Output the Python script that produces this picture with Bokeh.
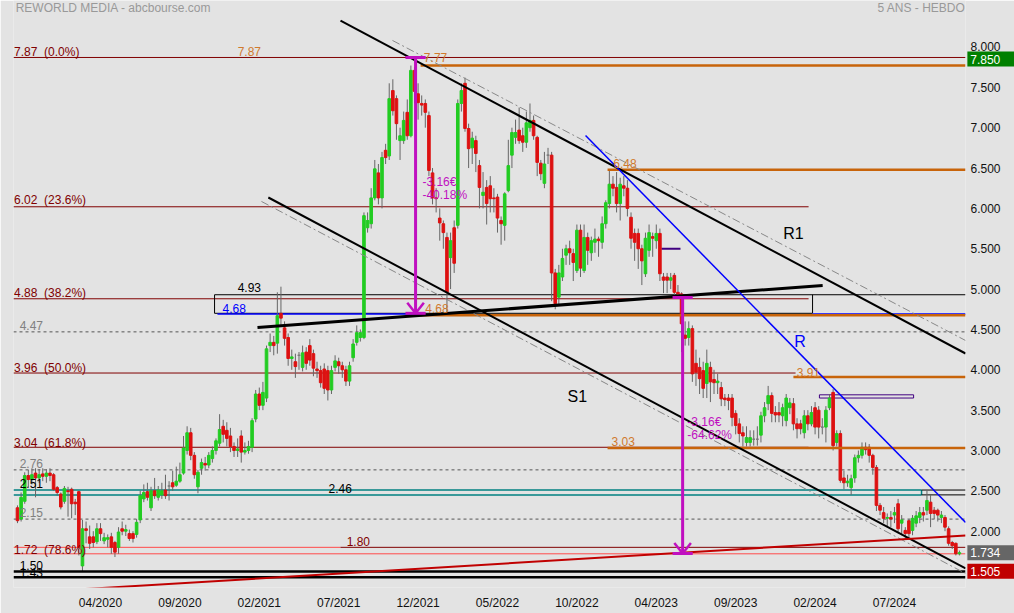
from bokeh.plotting import figure
from bokeh.models import Range1d, FixedTicker
from bokeh.core.properties import value
from bokeh.embed import file_html
from bokeh.resources import INLINE

FONT = "Liberation Sans"

# ---------------- weekly candles ----------------
open_ = [2.29, 2.15, 2.37, 2.69, 2.64, 2.72, 2.66, 2.71, 2.68, 2.72,
         2.70, 2.54, 2.46, 2.37, 2.50, 2.52, 2.36, 2.49, 1.57, 2.03,
         1.93, 1.93, 1.87, 2.03, 1.88, 1.90, 1.93, 1.86, 1.80, 2.03,
         2.00, 1.97, 1.97, 1.96, 2.14, 2.40, 2.49, 2.29, 2.50, 2.42,
         2.45, 2.51, 2.56, 2.60, 2.57, 2.62, 2.72, 3.00, 3.22, 2.94,
         2.55, 2.78, 2.84, 2.82, 2.90, 3.00, 3.09, 3.30, 3.25, 3.18,
         3.05, 3.00, 3.18, 2.98, 3.00, 3.04, 3.39, 3.70, 3.56, 3.65,
         4.30, 4.34, 4.33, 4.70, 4.52, 4.40, 4.14, 4.10, 4.18, 4.03,
         4.22, 4.30, 4.20, 4.01, 3.99, 4.01, 3.99, 3.75, 4.03, 4.10,
         4.05, 4.00, 3.86, 4.15, 4.34, 4.40, 4.40, 5.76, 5.81, 6.13,
         6.44, 6.13, 6.72, 6.65, 7.46, 7.36, 6.84, 6.84, 7.19, 6.90,
         7.71, 7.42, 7.30, 7.30, 7.15, 6.44, 6.13, 5.88, 5.81, 5.64,
         5.39, 5.76, 5.79, 7.30, 7.55, 6.99, 6.75, 6.84, 6.53, 6.16,
         6.26, 6.28, 6.13, 6.14, 5.85, 5.79, 6.22, 6.66, 6.88, 6.97,
         6.90, 6.82, 7.00, 7.09, 6.88, 6.56, 6.31, 6.66, 6.66, 5.20,
         4.90, 5.15, 5.42, 5.50, 5.44, 5.23, 5.73, 5.23, 5.64, 5.45,
         5.58, 5.62, 5.58, 5.81, 6.06, 6.30, 6.26, 6.06, 6.28, 6.25,
         5.89, 5.69, 5.69, 5.50, 5.19, 5.48, 5.65, 5.60, 5.69, 5.15,
         5.15, 5.11, 5.17, 4.96, 4.94, 4.43, 4.40, 4.51, 4.08, 4.03,
         3.99, 3.83, 4.03, 3.88, 3.84, 3.78, 3.65, 3.65, 3.65, 3.46,
         3.33, 3.22, 3.10, 3.10, 3.14, 3.14, 3.19, 3.43, 3.58, 3.68,
         3.47, 3.47, 3.43, 3.37, 3.53, 3.58, 3.33, 3.33, 3.22, 3.43,
         3.33, 3.53, 3.50, 3.29, 3.29, 3.53, 3.72, 3.10, 3.21, 2.66,
         2.60, 2.54, 2.66, 2.91, 2.94, 3.04, 3.04, 2.94, 2.79, 2.32,
         2.23, 2.16, 2.17, 2.20, 2.34, 2.10, 2.01, 2.13, 2.01, 2.10,
         2.17, 2.23, 2.26, 2.36, 2.26, 2.26, 2.17, 2.17, 2.03, 1.86,
         1.85, 1.72]
high = [2.32, 2.48, 2.73, 2.76, 2.78, 2.78, 2.77, 2.78, 2.77, 2.78,
        2.72, 2.56, 2.48, 2.56, 2.55, 2.54, 2.40, 2.50, 2.14, 2.12,
        2.07, 2.00, 2.10, 2.10, 1.98, 1.96, 1.98, 1.88, 2.05, 2.12,
        2.08, 2.02, 2.00, 2.15, 2.50, 2.58, 2.60, 2.55, 2.66, 2.56,
        2.60, 2.70, 2.62, 2.75, 2.80, 2.85, 3.18, 3.30, 3.28, 2.98,
        2.76, 2.90, 2.92, 2.98, 3.05, 3.15, 3.45, 3.38, 3.35, 3.28,
        3.10, 3.15, 3.25, 3.10, 3.12, 3.40, 3.75, 3.78, 3.85, 4.30,
        4.45, 4.42, 4.96, 5.03, 4.60, 4.45, 4.25, 4.20, 4.22, 4.30,
        4.28, 4.38, 4.25, 4.10, 4.05, 4.08, 4.05, 4.05, 4.18, 4.15,
        4.10, 4.05, 4.10, 4.38, 4.55, 4.50, 5.95, 5.95, 6.25, 6.60,
        6.55, 6.70, 6.80, 7.55, 7.60, 7.40, 7.00, 7.20, 7.35, 7.77,
        7.75, 7.55, 7.40, 7.35, 7.20, 6.50, 6.25, 6.00, 5.85, 5.70,
        5.70, 5.85, 7.35, 7.55, 7.62, 7.05, 6.95, 6.90, 6.60, 6.45,
        6.35, 6.40, 6.25, 6.18, 5.90, 6.20, 6.85, 7.00, 7.10, 7.25,
        7.00, 7.20, 7.30, 7.15, 6.90, 6.60, 6.70, 6.75, 6.70, 5.25,
        5.30, 5.50, 5.55, 5.60, 5.50, 5.80, 5.80, 5.80, 5.70, 5.65,
        5.75, 5.65, 5.90, 6.10, 6.48, 6.40, 6.45, 6.38, 6.40, 6.35,
        5.95, 5.75, 5.75, 5.55, 5.70, 5.80, 5.70, 5.80, 5.75, 5.20,
        5.20, 5.20, 5.20, 5.05, 4.96, 4.60, 4.60, 4.55, 4.25, 4.15,
        4.10, 4.25, 4.10, 4.00, 3.95, 3.85, 3.70, 3.70, 3.70, 3.50,
        3.40, 3.30, 3.30, 3.25, 3.25, 3.30, 3.48, 3.60, 3.80, 3.72,
        3.55, 3.60, 3.58, 3.70, 3.65, 3.65, 3.40, 3.38, 3.50, 3.50,
        3.55, 3.60, 3.55, 3.40, 3.55, 3.70, 3.76, 3.25, 3.25, 2.75,
        2.70, 2.70, 2.95, 3.00, 3.10, 3.10, 3.08, 2.96, 2.82, 2.35,
        2.30, 2.22, 2.25, 2.30, 2.40, 2.20, 2.05, 2.15, 2.20, 2.25,
        2.30, 2.30, 2.50, 2.45, 2.30, 2.28, 2.25, 2.20, 2.06, 1.88,
        1.86, 1.76]
low = [2.10, 2.12, 2.34, 2.55, 2.58, 2.42, 2.60, 2.62, 2.60, 2.62,
       2.50, 2.44, 2.27, 2.34, 2.18, 2.16, 2.20, 1.70, 1.50, 1.85,
       1.78, 1.80, 1.84, 1.88, 1.84, 1.80, 1.72, 1.68, 1.72, 1.95,
       1.94, 1.88, 1.86, 1.92, 2.10, 2.36, 2.38, 2.25, 2.40, 2.38,
       2.40, 2.40, 2.38, 2.50, 2.55, 2.60, 2.70, 2.95, 2.88, 2.65,
       2.47, 2.70, 2.75, 2.78, 2.85, 2.95, 3.05, 3.10, 3.05, 2.98,
       2.92, 2.92, 2.85, 2.95, 2.96, 2.98, 3.35, 3.50, 3.50, 3.60,
       4.22, 4.18, 4.20, 4.55, 4.30, 4.05, 4.00, 3.90, 4.00, 3.98,
       4.00, 4.05, 3.92, 3.90, 3.78, 3.70, 3.62, 3.70, 3.98, 3.95,
       3.90, 3.80, 3.80, 4.10, 4.30, 4.35, 4.38, 5.70, 5.75, 6.10,
       6.05, 6.00, 6.55, 6.60, 7.15, 6.85, 6.60, 6.80, 6.85, 6.88,
       7.30, 7.10, 7.15, 7.00, 6.40, 6.05, 5.95, 5.60, 5.50, 4.71,
       5.00, 5.20, 5.75, 7.20, 6.95, 6.50, 6.55, 6.45, 6.00, 6.00,
       5.80, 5.95, 5.95, 5.70, 5.55, 5.60, 6.20, 6.50, 6.80, 6.80,
       6.70, 6.75, 6.95, 6.85, 6.40, 6.35, 6.25, 6.55, 4.85, 4.75,
       4.80, 5.10, 5.30, 5.30, 5.10, 5.20, 5.15, 5.20, 5.30, 5.35,
       5.45, 5.40, 5.50, 5.75, 6.00, 6.15, 5.95, 5.85, 6.15, 5.90,
       5.50, 5.35, 5.25, 5.05, 5.15, 5.40, 5.40, 5.50, 5.10, 4.95,
       4.95, 5.00, 4.90, 4.88, 4.22, 4.30, 4.30, 3.85, 3.80, 3.70,
       3.65, 3.65, 3.60, 3.70, 3.70, 3.55, 3.55, 3.50, 3.30, 3.20,
       3.10, 3.05, 3.05, 3.05, 3.06, 3.06, 3.10, 3.35, 3.50, 3.35,
       3.35, 3.35, 3.30, 3.30, 3.45, 3.25, 3.15, 3.20, 3.15, 3.25,
       3.30, 3.20, 3.15, 3.20, 3.10, 3.50, 3.00, 3.05, 2.60, 2.52,
       2.55, 2.45, 2.60, 2.85, 2.90, 2.95, 2.85, 2.70, 2.25, 2.20,
       2.10, 2.05, 2.05, 2.10, 1.98, 1.95, 1.90, 1.92, 1.95, 2.05,
       2.10, 2.12, 2.20, 2.05, 2.15, 2.12, 2.10, 2.00, 1.82, 1.78,
       1.70, 1.70]
close = [2.13, 2.42, 2.69, 2.64, 2.70, 2.66, 2.70, 2.68, 2.72, 2.69,
         2.52, 2.48, 2.30, 2.53, 2.49, 2.34, 2.34, 1.80, 2.03, 2.01,
         1.85, 1.86, 2.03, 1.97, 1.92, 1.92, 1.80, 1.74, 1.99, 2.00,
         2.02, 1.91, 1.91, 2.11, 2.44, 2.48, 2.42, 2.50, 2.44, 2.51,
         2.50, 2.44, 2.56, 2.55, 2.62, 2.70, 3.03, 3.22, 2.94, 2.70,
         2.73, 2.85, 2.82, 2.94, 3.00, 3.12, 3.26, 3.20, 3.15, 3.05,
         3.00, 3.02, 2.98, 3.00, 3.05, 3.37, 3.70, 3.56, 3.72, 4.26,
         4.34, 4.30, 4.67, 4.64, 4.39, 4.14, 4.16, 4.04, 4.18, 4.21,
         4.08, 4.12, 4.02, 3.99, 3.84, 3.77, 3.75, 3.99, 4.11, 4.05,
         4.00, 3.86, 4.05, 4.32, 4.46, 4.46, 5.91, 5.85, 6.13, 6.49,
         6.13, 6.63, 6.63, 7.36, 7.21, 7.05, 6.90, 7.09, 6.90, 7.71,
         7.45, 7.31, 7.28, 7.19, 6.47, 6.13, 6.12, 5.82, 5.70, 4.96,
         5.60, 5.32, 7.30, 7.46, 6.99, 6.74, 6.87, 6.68, 6.26, 6.20,
         6.06, 6.12, 6.12, 5.88, 5.81, 6.18, 6.53, 6.94, 6.94, 6.84,
         6.82, 7.06, 7.09, 6.90, 6.57, 6.43, 6.55, 6.66, 5.20, 4.82,
         5.20, 5.38, 5.50, 5.45, 5.33, 5.73, 5.26, 5.64, 5.48, 5.60,
         5.62, 5.60, 5.81, 6.07, 6.30, 6.25, 6.06, 6.30, 6.25, 6.00,
         5.63, 5.58, 5.50, 5.35, 5.63, 5.70, 5.63, 5.69, 5.19, 5.11,
         5.11, 5.14, 4.96, 4.94, 4.57, 4.39, 4.51, 3.95, 3.97, 3.89,
         3.77, 4.08, 3.85, 3.84, 3.86, 3.64, 3.63, 3.62, 3.41, 3.31,
         3.21, 3.18, 3.16, 3.16, 3.14, 3.14, 3.43, 3.53, 3.68, 3.46,
         3.44, 3.44, 3.53, 3.65, 3.59, 3.33, 3.27, 3.27, 3.43, 3.33,
         3.47, 3.29, 3.29, 3.29, 3.50, 3.65, 3.06, 3.21, 2.63, 2.60,
         2.62, 2.65, 2.91, 2.94, 3.04, 3.01, 2.94, 2.79, 2.32, 2.26,
         2.16, 2.17, 2.15, 2.23, 2.03, 2.14, 1.97, 1.97, 2.16, 2.19,
         2.23, 2.20, 2.38, 2.22, 2.22, 2.20, 2.20, 2.05, 1.85, 1.82,
         1.72, 1.734]

date_tick_bars = [23, 45, 67, 89, 111, 133, 155, 177, 199, 221, 243]
date_tick_labels = ["04/2020", "09/2020", "02/2021", "07/2021", "12/2021", "05/2022",
                    "10/2022", "04/2023", "09/2023", "02/2024", "07/2024"]
price_ticks = [2.0, 2.5, 3.0, 3.5, 4.0, 4.5, 5.0, 5.5, 6.0, 6.5, 7.0, 7.5, 8.0]

# Fibonacci retracement levels
fib_levels = [7.87, 6.02, 4.88, 3.96, 3.04, 1.72]
fib_pcts = ["0.0%", "23.6%", "38.2%", "50.0%", "61.8%", "78.6%"]
fib_end_bar = [None, 219.2, 219.2, 215.6, 219.2, None]

# other horizontal levels
dashed_levels = [4.47, 2.76, 2.15]
support_levels = [1.50, 1.43]
orange_levels = [7.77, 6.48, 4.675, 3.91, 3.03]
orange_start_bar = [111.7, 163.5, 111.7, 215.0, 163.5]
orange_texts = ["7.77", "6.48", "4.68", "3.91", "3.03"]

# trend lines: (bar0, price0, bar1, price1)
r1_line = (89.5, 8.328, 262.7, 4.202)
r1_guide = (103.9, 8.081, 262.7, 4.363)
s1_line = (69.5, 6.135, 262.7, 1.538)
s1_guide = (67.6, 6.086, 262.7, 1.476)
neck_line = (66.5, 4.524, 223.1, 5.045)
r_line = (157.4, 6.903, 262.7, 2.108)
red_line = (11.9, 1.265, 262.7, 1.947)

# measured moves (bar, top price, bottom price, texts)
moves = [(110.3, 7.87, 4.70, "-3.16€", "-40.18%"),
         (184.3, 4.896, 1.724, "-3.16€", "-64.62%")]

# highlighted prices on the price scale
box_prices = [7.85, 1.734, 1.505]
box_colors = ["#008000", "#666666", "#c00000"]

# ---------------- figure ----------------
BG = "#e3e3e3"
DARKRED = "#800000"
ORANGE = "#c8640a"
ORANGE_TXT = "#d07a2e"
MAGENTA = "#c010c0"

X0, X1 = -1.108, 262.68
Y0, Y1 = 1.3024, 8.576
XR = 276.4   # right edge of the canvas, in bar units

p = figure(width=1014, height=613, x_range=Range1d(X0, X1), y_range=Range1d(Y0, Y1),
           output_backend="svg", toolbar_location=None, y_axis_location="right",
           min_border_left=13, min_border_right=49, min_border_top=0, min_border_bottom=26,
           background_fill_color=BG, border_fill_color=BG, outline_line_color=None)
p.grid.visible = False

for ax in (p.xaxis[0], p.yaxis[0]):
    ax.axis_line_color = None
    ax.major_tick_line_color = None
    ax.minor_tick_line_color = None
    ax.major_label_text_font = FONT
    ax.major_label_text_font_size = "12px"
    ax.major_label_text_color = "#111111"

p.xaxis.ticker = FixedTicker(ticks=date_tick_bars)
p.xaxis.major_label_overrides = {b: l for b, l in zip(date_tick_bars, date_tick_labels)}
p.xaxis.major_label_standoff = 2
p.yaxis.ticker = FixedTicker(ticks=price_ticks)
p.yaxis.major_label_overrides = {t: "%.3f" % t for t in price_ticks}
p.yaxis.major_tick_out = 0
p.yaxis.major_tick_in = 0
p.yaxis.major_label_standoff = 5


def hseg(y, x0, x1, color, width=1, dash="solid"):
    p.segment(x0=[x0 if x0 is not None else X0], y0=[y], x1=[x1 if x1 is not None else X1], y1=[y],
              line_color=color, line_width=width, line_dash=dash)


def seg(t, color, width=1, dash="solid"):
    p.segment(x0=[t[0]], y0=[t[1]], x1=[t[2]], y1=[t[3]], line_color=color,
              line_width=width, line_dash=dash)


# background levels
for lv, end in zip(fib_levels, fib_end_bar):
    if lv == 1.72:
        continue
    hseg(lv, None, end, DARKRED, 1)
hseg(3.035, 219.2, 236.0, "#f2a0a0", 2)

for lv in dashed_levels:
    hseg(lv, None, None, "#555555", 1, "3 3")

# teal zone 2.45-2.51
hseg(2.51, None, 250.5, "#008080", 1.5)
hseg(2.45, None, 250.5, "#008080", 1.5)
p.segment(x0=[250.5], y0=[2.45], x1=[250.5], y1=[2.51], line_color="#008080", line_width=1.5)
hseg(2.51, 250.5, None, "#000000", 1)
hseg(2.45, 250.5, None, "#000000", 1)

# light red 1.72 zone + dark red 1.80
hseg(1.72, None, None, "#ff4a4a", 1)
hseg(1.80, None, 89.5, "#ff4a4a", 1)
hseg(1.80, 89.5, None, DARKRED, 1)

# black box 4.70-4.93
hseg(4.93, 54.6, None, "#000000", 1)
hseg(4.70, 54.6, 220.3, "#000000", 1)
p.segment(x0=[54.6, 220.3], y0=[4.70, 4.70], x1=[54.6, 220.3], y1=[4.93, 4.93],
          line_color="#000000", line_width=1)
hseg(4.69, 55.4, 111.7, "#0000ff", 1.5)
hseg(4.69, 220.3, None, "#0000ff", 1.5)

# purple marks
hseg(5.50, 178.4, 183.7, "#400080", 2)
p.quad(left=[222.2], right=[248.3], bottom=[3.65], top=[3.69], fill_color=None,
       line_color="#400080", line_width=1)

# ---------------- candles ----------------
idx = list(range(len(close)))
cols = ["#22cc22" if c > o else ("#dd1111" if c < o else "#777777") for o, c in zip(open_, close)]
tops = [max(o, c) for o, c in zip(open_, close)]
bots = [min(o, c) for o, c in zip(open_, close)]
p.segment(x0=idx, y0=low, x1=idx, y1=high, line_color="#666666", line_width=1)
p.vbar(x=idx, width=0.72, top=tops, bottom=bots, fill_color=cols, line_color=cols, line_width=1)

# orange levels
for lv, st in zip(orange_levels, orange_start_bar):
    hseg(lv, st, None, ORANGE, 2.5)

# support lines
for lv in support_levels:
    hseg(lv, None, None, "#000000", 2.5)

# trend lines
seg(r1_guide, "#888888", 1, "8 3 2 3")
seg(s1_guide, "#888888", 1, "8 3 2 3")
seg(r1_line, "#000000", 2)
seg(s1_line, "#000000", 2)
seg(neck_line, "#000000", 3)
seg(r_line, "#0000ff", 1.5)
seg(red_line, "#c00000", 2)

# measured-move arrows
for bx, ytop, ybot, t1, t2 in moves:
    p.segment(x0=[bx], y0=[ytop], x1=[bx], y1=[ybot], line_color=MAGENTA, line_width=3)
    p.segment(x0=[bx - 2.8, bx - 2.8], y0=[ytop, ybot], x1=[bx + 2.8, bx + 2.8], y1=[ytop, ybot],
              line_color=MAGENTA, line_width=3)
    p.segment(x0=[bx - 2.3, bx + 2.3], y0=[ybot + 0.13, ybot + 0.13], x1=[bx, bx], y1=[ybot, ybot],
              line_color=MAGENTA, line_width=2.5)

# ---------------- texts ----------------
def txt(x, y, s, color, size="12px", align="left", level="glyph"):
    p.text(x=[x], y=[y], text=[s], text_color=color, text_font=value(FONT),
           text_font_size=size, text_baseline="middle", text_align=align, level=level)


fib_text_y = [7.944, 6.098, 4.946, 4.017, 3.088, 1.773]
for lv, pc, ty in zip(fib_levels, fib_pcts, fib_text_y):
    txt(-0.95, ty, "%.2f\u00a0\u00a0(%s)" % (lv, pc), DARKRED)

txt(61.0, 7.944, "7.87", ORANGE_TXT)
orange_text_pos = [(112.6, 7.875), (165.1, 6.556), (113.0, 4.760), (215.9, 3.967), (164.6, 3.112)]
for (tx, ty), s in zip(orange_text_pos, orange_texts):
    txt(tx, ty, s, ORANGE_TXT)

txt(61.0, 5.020, "4.93", "#000000")
txt(56.8, 4.763, "4.68", "#0000ff")
txt(0.6, 4.549, "4.47", "#808080")
txt(0.6, 2.839, "2.76", "#808080")
txt(0.6, 2.232, "2.15", "#808080")
txt(0.6, 2.591, "2.51", "#000000")
txt(86.2, 2.530, "2.46", "#000000")
txt(91.2, 1.872, "1.80", DARKRED)
txt(0.6, 1.575, "1.50", "#000000")
txt(0.6, 1.488, "1.43", "#000000")

txt(212.2, 5.689, "R1", "#000000", "16px")
txt(215.2, 4.351, "R", "#0000ff", "16px")
txt(152.4, 3.669, "S1", "#000000", "16px")

move_text_pos = [(112.2, 6.321, 6.160), (185.6, 3.359, 3.186)]
for (tx, ty1, ty2), mv in zip(move_text_pos, moves):
    txt(tx, ty1, mv[3], MAGENTA)
    txt(tx, ty2, mv[4], MAGENTA)

# title texts
txt(-0.5, 8.477, "REWORLD MEDIA - abcbourse.com", "#999999")
txt(X1, 8.477, "5 ANS - HEBDO", "#999999", align="right")

# highlighted prices drawn over the price scale (overlay level is not clipped to the frame)
half = 7.5 / 80.7
p.quad(left=[263.2] * 3, right=[XR] * 3, bottom=[v - half for v in box_prices],
       top=[v + half for v in box_prices], fill_color=box_colors, line_color=None, level="overlay")
for v in box_prices:
    txt(264.0, v, "%.3f" % v, "#ffffff", level="overlay")

open("out.html", "w").write(file_html(p, INLINE))
